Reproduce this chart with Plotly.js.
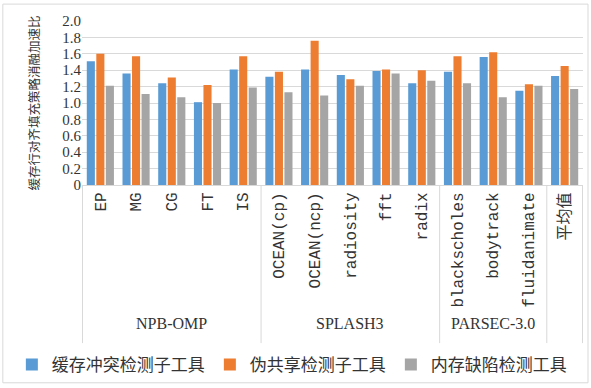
<!DOCTYPE html>
<html>
<head>
<meta charset="utf-8">
<script src="https://cdn.plot.ly/plotly-3.0.1.min.js"></script>
<style>html,body{margin:0;padding:0;background:#fff;}#chart{width:591px;height:388px;}</style>
</head>
<body>
<div id="chart"></div>
<script>
const categories = ['EP','MG','CG','FT','IS','OCEAN(cp)','OCEAN(ncp)','radiosity','fft','radix','blackscholes','bodytrack','fluidanimate','平均值'];
const cacheConflict = [1.51,1.36,1.24,1.01,1.41,1.32,1.41,1.34,1.39,1.24,1.38,1.56,1.15,1.33];
const falseSharing  = [1.60,1.57,1.31,1.22,1.57,1.38,1.76,1.29,1.41,1.40,1.57,1.62,1.23,1.45];
const memoryDefect  = [1.21,1.11,1.07,1.00,1.19,1.13,1.09,1.21,1.36,1.27,1.24,1.07,1.21,1.17];
const seriesNames = ['缓存冲突检测子工具','伪共享检测子工具','内存缺陷检测工具'];
const groupNames = ['NPB-OMP','SPLASH3','PARSEC-3.0',''];
const groupSizes = [5,5,3,1];
const yTickVals = [0,0.2,0.4,0.6,0.8,1.0,1.2,1.4,1.6,1.8,2.0];
const yTickText = ['0','0.2','0.4','0.6','0.8','1.0','1.2','1.4','1.6','1.8','2.0'];
const yTitle = '缓存行对齐填充策略消融加速比';

const colors = ['#5B9BD5','#ED7D31','#A5A5A5'];
const values = [cacheConflict, falseSharing, memoryDefect];
const traces = values.map((v,i)=>({
  type:'bar', x:categories, y:v, name:seriesNames[i],
  marker:{color:colors[i]}
}));

const grid = '#d9d9d9';
const shapes = [];
const annotations = [];
let start = 0;
const divBottom = -0.964;
shapes.push({type:'line', xref:'x', yref:'paper', x0:-0.5, x1:-0.5, y0:0, y1:divBottom, line:{color:grid,width:1}});
groupSizes.forEach((n,i)=>{
  const end = start + n;
  shapes.push({type:'line', xref:'x', yref:'paper', x0:end-0.5, x1:end-0.5, y0:0, y1:divBottom, line:{color:grid,width:1}});
  if (groupNames[i]) {
    annotations.push({xref:'x', yref:'paper', x:(start+end-1)/2, y:-0.842, text:groupNames[i],
      showarrow:false, xanchor:'center', yanchor:'middle',
      font:{family:'Liberation Serif, serif', size:16, color:'#333'}});
  }
  start = end;
});
// y-axis title, placed left of tick labels
annotations.push({xref:'paper', yref:'paper', x:-0.097, y:0.5, xanchor:'center', yanchor:'middle',
  text:yTitle, textangle:-90, showarrow:false,
  font:{family:'Noto Sans CJK SC, sans-serif', size:12.5, color:'#333'}});
// outer frame
shapes.push({type:'rect', xref:'paper', yref:'paper', x0:-0.158, x1:1.01, y0:-1.206, y1:1.103, line:{color:grid,width:1}});

const layout = {
  width:591, height:388,
  margin:{l:82, r:8, t:21, b:202},
  paper_bgcolor:'#fff', plot_bgcolor:'#fff',
  barmode:'group', bargap:0.2, bargroupgap:0.15,
  showlegend:true,
  legend:{orientation:'h', xref:'paper', yref:'paper', x:-0.14, xanchor:'left', y:-1.085, yanchor:'middle',
    font:{family:'Noto Sans CJK SC, sans-serif', size:17, color:'#333'}, itemwidth:30, traceorder:'normal',
    bgcolor:'rgba(0,0,0,0)'},
  xaxis:{type:'category', tickangle:-90, showgrid:false, showline:true, linecolor:grid, linewidth:1,
    ticks:'', tickfont:{family:'Liberation Mono, Noto Sans CJK SC, monospace', size:16, color:'#333'}, automargin:false},
  yaxis:{range:[0,2.0], tickvals:yTickVals, ticktext:yTickText, showgrid:true, gridcolor:grid, gridwidth:1,
    zeroline:false, showline:false, ticks:'', automargin:false,
    tickfont:{family:'Liberation Serif, serif', size:15, color:'#333'}},
  shapes:shapes,
  annotations:annotations
};
Plotly.newPlot('chart', traces, layout, {staticPlot:true, displayModeBar:false});
</script>
</body>
</html>
